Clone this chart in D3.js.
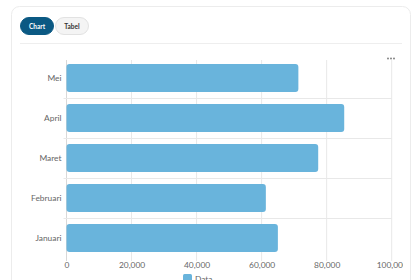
<!DOCTYPE html>
<html>
<head>
<meta charset="utf-8">
<script src="https://cdn.jsdelivr.net/npm/d3@7"></script>
<style>
  body { margin: 0; background: #fff; font-family: Lato, sans-serif; }
  svg { display: block; }
</style>
</head>
<body>
<svg width="420" height="280"></svg>
<script>
const svg = d3.select('svg');

const width = +svg.attr('width');
const height = +svg.attr('height');

// data
const months = ['Mei', 'April', 'Maret', 'Februari', 'Januari'];
const values = [71300, 85400, 77400, 61300, 65000];
const xTicks = [0, 20000, 40000, 60000, 80000, 100000];
const seriesName = 'Data';

const barColor = '#69b4dc';
const labelFont = 'Lato, sans-serif';
const labelSize = 8.4;

// card
svg.append('rect')
  .attr('x', 11.5).attr('y', 6.5)
  .attr('width', 399).attr('height', 290)
  .attr('rx', 8)
  .attr('fill', '#fff')
  .attr('stroke', '#ececec');

svg.append('clipPath').attr('id', 'card')
  .append('rect')
  .attr('x', 12).attr('y', 7)
  .attr('width', 391).attr('height', 290);

svg.append('line')
  .attr('x1', 20).attr('x2', 402)
  .attr('y1', 43.5).attr('y2', 43.5)
  .attr('stroke', '#eeeeee');

// tab buttons
const tabs = [
  { label: 'Chart', x: 20.5, active: true },
  { label: 'Tabel', x: 55.5, active: false }
];
const tab = svg.selectAll('g.tab').data(tabs)
  .enter().append('g')
  .attr('class', 'tab')
  .attr('transform', d => `translate(${d.x},17.5)`);
tab.append('rect')
  .attr('width', 33).attr('height', 17)
  .attr('rx', 8.5)
  .attr('fill', d => d.active ? '#0b5983' : '#f4f4f4')
  .attr('stroke', d => d.active ? '#0b5983' : '#e2e2e2');
tab.append('text')
  .attr('x', 16.5).attr('y', 11)
  .attr('text-anchor', 'middle')
  .attr('font-family', labelFont)
  .attr('font-size', 6.5)
  .attr('font-weight', 700)
  .attr('fill', d => d.active ? '#fff' : '#333')
  .text(d => d.label);

// menu dots
svg.append('g').selectAll('circle').data([-3, 0, 3])
  .enter().append('circle')
  .attr('cx', d => 391 + d).attr('cy', 58.5)
  .attr('r', 0.9)
  .attr('fill', '#777');

// chart
const margin = { left: 66.5, right: 420 - 391.7, top: 58, bottom: 280 - 258 };

const x = d3.scaleLinear()
  .domain([0, 100000])
  .range([margin.left, width - margin.right]);

const y = d3.scaleBand()
  .domain(months)
  .range([margin.top, height - margin.bottom])
  .paddingInner(0.3)
  .paddingOuter(0.15);

// gridlines
svg.append('g').selectAll('line').data(xTicks)
  .enter().append('line')
  .attr('x1', d => x(d)).attr('x2', d => x(d))
  .attr('y1', margin.top + 2).attr('y2', height - margin.bottom + 3)
  .attr('stroke', d => d === 0 ? '#d8d8d8' : '#e8e8e8');

const bandLines = months.slice(1).map(m => y(m) - y.step() * y.paddingInner() / 2);
svg.append('g').selectAll('line').data(bandLines)
  .enter().append('line')
  .attr('x1', margin.left - 3).attr('x2', width - margin.right)
  .attr('y1', d => Math.round(d) + 0.5).attr('y2', d => Math.round(d) + 0.5)
  .attr('stroke', '#e8e8e8');

// bars
svg.append('g').selectAll('rect').data(values)
  .enter().append('rect')
  .attr('x', x(0))
  .attr('y', (d, i) => y(months[i]))
  .attr('width', d => x(d) - x(0))
  .attr('height', y.bandwidth())
  .attr('rx', 3)
  .attr('fill', barColor);

// axes
const xAxis = svg.append('g')
  .attr('clip-path', 'url(#card)')
  .append('g')
  .attr('transform', `translate(0,${height - margin.bottom})`)
  .call(d3.axisBottom(x).tickValues(xTicks).tickFormat(d3.format(',')).tickSize(0).tickPadding(4));
xAxis.select('.domain').remove();
xAxis.selectAll('text')
  .attr('font-family', labelFont)
  .attr('font-size', labelSize)
  .attr('fill', '#666');

const yAxis = svg.append('g')
  .attr('transform', `translate(${margin.left},0)`)
  .call(d3.axisLeft(y).tickSize(0).tickPadding(5));
yAxis.select('.domain').remove();
yAxis.selectAll('text')
  .attr('font-family', labelFont)
  .attr('font-size', labelSize)
  .attr('fill', '#666');

// legend
const legend = svg.append('g').attr('transform', 'translate(183,274)');
legend.append('rect')
  .attr('width', 9).attr('height', 8)
  .attr('rx', 1.5)
  .attr('fill', barColor);
legend.append('text')
  .attr('x', 12).attr('y', 7.5)
  .attr('font-family', labelFont)
  .attr('font-size', labelSize)
  .attr('fill', '#666')
  .text(seriesName);
</script>
</body>
</html>
